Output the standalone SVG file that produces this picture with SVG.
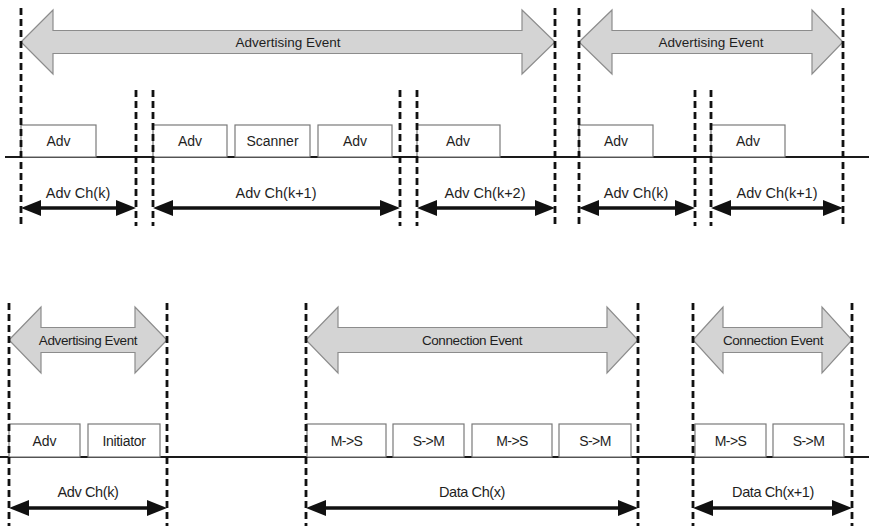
<svg xmlns="http://www.w3.org/2000/svg" width="869" height="528" viewBox="0 0 869 528">
  <style>
    .bg { fill: #ffffff; }
    .event { fill: #d4d4d4; stroke: #8c8c8c; stroke-width: 1.2; stroke-linejoin: miter; }
    .evtxt { font-family: "Liberation Sans", Arial, sans-serif; font-size: 13.5px; fill: #1e1e1e; text-anchor: middle; }
    .pdu { fill: #ffffff; stroke: #7a7a7a; stroke-width: 1.2; }
    .pdutxt { font-family: "Liberation Sans", Arial, sans-serif; font-size: 14px; fill: #1e1e1e; text-anchor: middle; }
    .chtxt { font-family: "Liberation Sans", Arial, sans-serif; font-size: 14.5px; fill: #1e1e1e; text-anchor: middle; }
    .axis { stroke: #1a1a1a; stroke-width: 2; fill: none; }
    .bound { stroke: #111111; stroke-width: 2.8; stroke-dasharray: 7 4; fill: none; }
    .span { stroke: #111111; stroke-width: 3.5; fill: none; marker-start: url(#head); marker-end: url(#head); }
  </style>
  <defs>
    <marker id="head" markerUnits="userSpaceOnUse" viewBox="0 -9 20 18" markerWidth="20" markerHeight="18" refX="10" refY="0" orient="auto-start-reverse">
      <path d="M0,-8 L20,0 L0,8 Z" fill="#111111"/>
    </marker>
  </defs>

  <rect class="bg" x="0" y="0" width="869" height="528"/>

  <!-- time axes -->
  <g id="timelines">
    <line class="axis" x1="5" y1="157" x2="869" y2="157"/>
    <line class="axis" x1="0" y1="457" x2="869" y2="457"/>
  </g>

  <!-- advertising / connection event arrows -->
  <g id="adv-event-1">
    <path class="event" d="M21,42 L53,10 L53,30.5 L522,30.5 L522,10 L555,42 L522,74 L522,53.5 L53,53.5 L53,74 Z"/>
    <text class="evtxt" x="288" y="47">Advertising Event</text>
  </g>
  <g id="adv-event-2">
    <path class="event" d="M579,42 L612,10 L612,30.5 L812,30.5 L812,10 L843,42 L812,74 L812,53.5 L612,53.5 L612,74 Z"/>
    <text class="evtxt" x="711" y="47">Advertising Event</text>
  </g>
  <g id="adv-event-3">
    <path class="event" d="M9,340 L41,307 L41,327.5 L135,327.5 L135,307 L167,340 L135,373 L135,352.5 L41,352.5 L41,373 Z"/>
    <text class="evtxt" x="88" y="345" letter-spacing="-0.4">Advertising Event</text>
  </g>
  <g id="conn-event-1">
    <path class="event" d="M306,340 L338,307 L338,327.5 L607,327.5 L607,307 L638,340 L607,373 L607,352.5 L338,352.5 L338,373 Z"/>
    <text class="evtxt" x="472" y="345" letter-spacing="-0.4">Connection Event</text>
  </g>
  <g id="conn-event-2">
    <path class="event" d="M693,340 L723,307 L723,327.5 L822,327.5 L822,307 L852,340 L822,373 L822,352.5 L723,352.5 L723,373 Z"/>
    <text class="evtxt" x="773" y="345" letter-spacing="-0.4">Connection Event</text>
  </g>

  <!-- packets on the air -->
  <g id="pdu-adv-1"><rect class="pdu" x="21" y="125" width="75" height="32"/><text class="pdutxt" x="58.5" y="146">Adv</text></g>
  <g id="pdu-adv-2"><rect class="pdu" x="153" y="125" width="74" height="32"/><text class="pdutxt" x="190" y="146">Adv</text></g>
  <g id="pdu-scanner"><rect class="pdu" x="235" y="125" width="75" height="32"/><text class="pdutxt" x="272.5" y="146">Scanner</text></g>
  <g id="pdu-adv-3"><rect class="pdu" x="318" y="125" width="74" height="32"/><text class="pdutxt" x="355" y="146">Adv</text></g>
  <g id="pdu-adv-4"><rect class="pdu" x="417" y="125" width="83" height="32"/><text class="pdutxt" x="458" y="146">Adv</text></g>
  <g id="pdu-adv-5"><rect class="pdu" x="579" y="125" width="74" height="32"/><text class="pdutxt" x="616" y="146">Adv</text></g>
  <g id="pdu-adv-6"><rect class="pdu" x="711" y="125" width="74" height="32"/><text class="pdutxt" x="748" y="146">Adv</text></g>

  <g id="pdu-adv-7"><rect class="pdu" x="9" y="424" width="71" height="33"/><text class="pdutxt" x="44.5" y="446">Adv</text></g>
  <g id="pdu-initiator"><rect class="pdu" x="88" y="424" width="72" height="33"/><text class="pdutxt" x="124" y="446" letter-spacing="-0.3">Initiator</text></g>
  <g id="pdu-ms-1"><rect class="pdu" x="307" y="424" width="79" height="33"/><text class="pdutxt" x="346.5" y="446" letter-spacing="-0.6">M-&gt;S</text></g>
  <g id="pdu-sm-1"><rect class="pdu" x="393" y="424" width="71" height="33"/><text class="pdutxt" x="428.5" y="446" letter-spacing="-0.6">S-&gt;M</text></g>
  <g id="pdu-ms-2"><rect class="pdu" x="472" y="424" width="80" height="33"/><text class="pdutxt" x="512" y="446" letter-spacing="-0.6">M-&gt;S</text></g>
  <g id="pdu-sm-2"><rect class="pdu" x="559" y="424" width="72" height="33"/><text class="pdutxt" x="595" y="446" letter-spacing="-0.6">S-&gt;M</text></g>
  <g id="pdu-ms-3"><rect class="pdu" x="695" y="424" width="71" height="33"/><text class="pdutxt" x="730.5" y="446" letter-spacing="-0.6">M-&gt;S</text></g>
  <g id="pdu-sm-3"><rect class="pdu" x="773" y="424" width="71" height="33"/><text class="pdutxt" x="808.5" y="446" letter-spacing="-0.6">S-&gt;M</text></g>

  <!-- channel boundaries and channel spans -->
  <g id="connectors">
    <line class="bound" x1="21" y1="8" x2="21" y2="226"/>
    <line class="bound" x1="136" y1="90" x2="136" y2="226"/>
    <line class="bound" x1="153" y1="90" x2="153" y2="226"/>
    <line class="bound" x1="400" y1="90" x2="400" y2="226"/>
    <line class="bound" x1="417" y1="90" x2="417" y2="226"/>
    <line class="bound" x1="555" y1="8" x2="555" y2="226"/>
    <line class="bound" x1="579" y1="8" x2="579" y2="226"/>
    <line class="bound" x1="695" y1="90" x2="695" y2="226"/>
    <line class="bound" x1="711" y1="90" x2="711" y2="226"/>
    <line class="bound" x1="843" y1="8" x2="843" y2="226"/>

    <line class="bound" x1="9" y1="303" x2="9" y2="526"/>
    <line class="bound" x1="167" y1="303" x2="167" y2="526"/>
    <line class="bound" x1="306" y1="303" x2="306" y2="526"/>
    <line class="bound" x1="638" y1="303" x2="638" y2="526"/>
    <line class="bound" x1="693" y1="303" x2="693" y2="526"/>
    <line class="bound" x1="852" y1="303" x2="852" y2="526"/>

    <line class="span" x1="31" y1="208" x2="126" y2="208"/>
    <line class="span" x1="163" y1="208" x2="390" y2="208"/>
    <line class="span" x1="427" y1="208" x2="545" y2="208"/>
    <line class="span" x1="589" y1="208" x2="685" y2="208"/>
    <line class="span" x1="721" y1="208" x2="833" y2="208"/>

    <line class="span" x1="19" y1="508" x2="157" y2="508"/>
    <line class="span" x1="316" y1="508" x2="628" y2="508"/>
    <line class="span" x1="703" y1="508" x2="842" y2="508"/>

    <text class="chtxt" x="78" y="198">Adv Ch(k)</text>
    <text class="chtxt" x="276" y="198">Adv Ch(k+1)</text>
    <text class="chtxt" x="485" y="198">Adv Ch(k+2)</text>
    <text class="chtxt" x="636" y="198">Adv Ch(k)</text>
    <text class="chtxt" x="777" y="198">Adv Ch(k+1)</text>

    <text class="chtxt" x="88" y="497" letter-spacing="-0.4">Adv Ch(k)</text>
    <text class="chtxt" x="472" y="497" letter-spacing="-0.4">Data Ch(x)</text>
    <text class="chtxt" x="773" y="497" letter-spacing="-0.4">Data Ch(x+1)</text>
  </g>
</svg>
